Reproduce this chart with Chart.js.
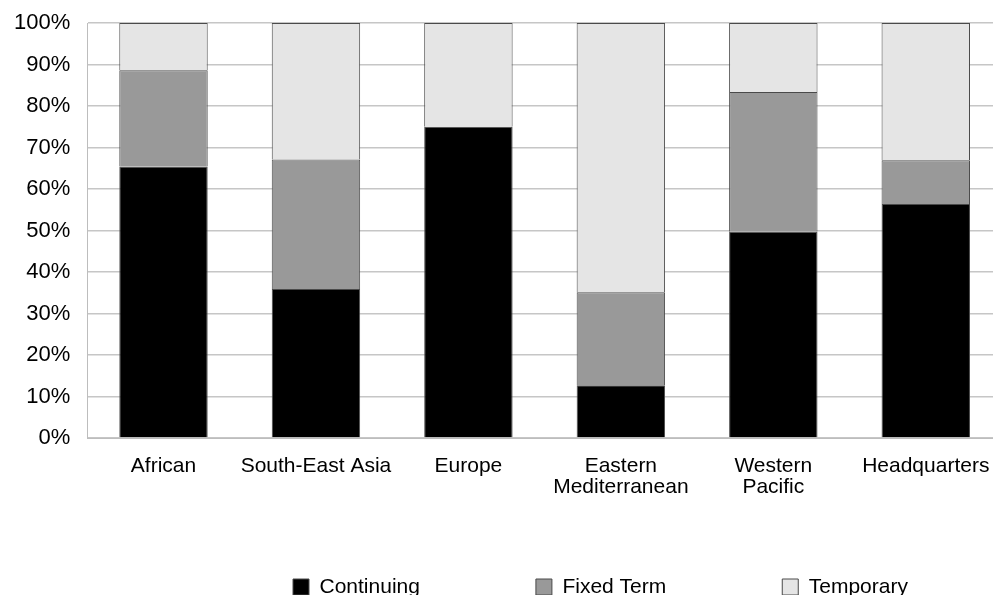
<!DOCTYPE html>
<html>
<head>
<meta charset="utf-8">
<script src="https://cdn.jsdelivr.net/npm/chart.js@4.4.1/dist/chart.umd.min.js"></script>
<style>
  html, body { margin: 0; padding: 0; background: #ffffff; overflow: hidden; }
  #wrap { position: relative; width: 1010px; height: 595px; }
</style>
</head>
<body>
<div id="wrap"><canvas id="chart" width="1010" height="595"></canvas></div>
<script>
// Staff by contract type and region (share of total, %)
const categories = ['African', 'South-East Asia', 'Europe', ['Eastern', 'Mediterranean'], ['Western', 'Pacific'], 'Headquarters'];
const continuing = [65.4, 35.9, 75.0, 12.7, 49.7, 56.4];
const fixedTerm  = [23.2, 31.2, 0.0, 22.4, 33.7, 10.5];
const temporary  = [11.4, 32.9, 25.0, 64.9, 16.6, 33.1];
const yTickLabels = ['0%', '10%', '20%', '30%', '40%', '50%', '60%', '70%', '80%', '90%', '100%'];

const FONT = "'Liberation Sans', Arial, Helvetica, sans-serif";
Chart.defaults.font.family = FONT;
Chart.defaults.color = '#000000';

// Places the single legend row: first item starts at startX, row centred on rowY
const legendPlacement = {
  id: 'legendPlacement',
  afterLayout(chart, args, opts) {
    const lg = chart.legend;
    if (!lg || !lg.lineWidths) return;
    const lab = lg.options.labels;
    const pad = lab.padding;
    const itemH = Math.max(lab.boxHeight, lab.font.size);
    const top = opts.rowY - itemH / 2 - pad;
    lg.top = top;
    lg.bottom = opts.rowY + itemH / 2 + 12;
    lg.height = lg.bottom - lg.top;
    const start = (lg.left + pad + lg.right - lg.lineWidths[0]) / 2;
    const dx = opts.startX - start;
    lg.left += dx;
    lg.right += dx;
  }
};

const segBorder = '#4a4a4a';

new Chart(document.getElementById('chart'), {
  type: 'bar',
  data: {
    labels: categories,
    datasets: [
      { label: 'Continuing', data: continuing, backgroundColor: '#000000', borderColor: segBorder, borderWidth: 1 },
      { label: 'Fixed Term', data: fixedTerm, backgroundColor: '#999999', borderColor: segBorder, borderWidth: 1 },
      { label: 'Temporary', data: temporary, backgroundColor: '#e5e5e5', borderColor: segBorder, borderWidth: 1 }
    ]
  },
  options: {
    responsive: false,
    animation: false,
    barPercentage: 0.58,
    categoryPercentage: 1.0,
    layout: { padding: { top: 23, left: 6, right: 8, bottom: 56 } },
    scales: {
      x: {
        stacked: true,
        grid: { display: false },
        border: { display: true, color: '#bdbdbd', width: 1 },
        ticks: {
          padding: 10,
          maxRotation: 0,
          autoSkip: false,
          font: { size: 21, lineHeight: 1.0 },
          color: '#000000'
        }
      },
      y: {
        stacked: true,
        min: 0,
        max: 100,
        grid: { color: '#c6c6c6', lineWidth: 1.5, drawTicks: true, tickLength: 9, tickColor: 'rgba(0,0,0,0)' },
        border: { display: true, color: '#bdbdbd', width: 1 },
        ticks: {
          stepSize: 10,
          padding: 8,
          autoSkip: false,
          font: { size: 22 },
          color: '#000000',
          callback: (v) => yTickLabels[Math.round(v / 10)]
        }
      }
    },
    plugins: {
      tooltip: { enabled: false },
      legend: {
        position: 'bottom',
        maxHeight: 31,
        labels: {
          boxWidth: 16,
          boxHeight: 16,
          padding: 116,
          color: '#000000',
          font: { size: 21 }
        }
      },
      legendPlacement: { startX: 293, rowY: 587 }
    }
  },
  plugins: [legendPlacement]
});
</script>
</body>
</html>
